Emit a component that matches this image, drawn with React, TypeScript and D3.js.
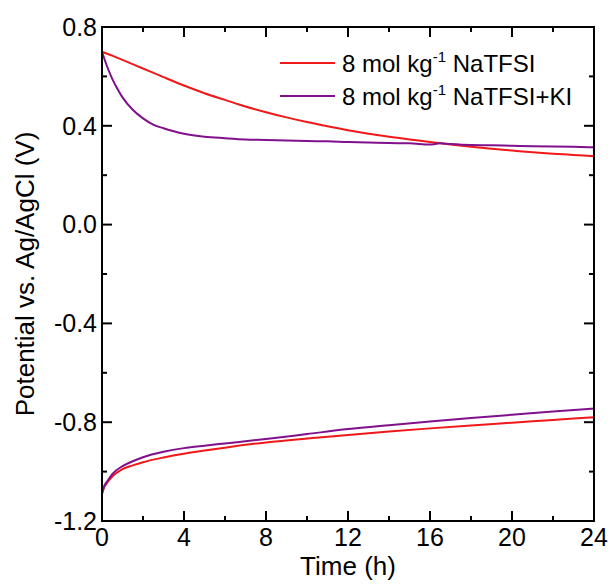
import React, { useRef, useEffect } from "react";
import * as d3 from "d3";

const W = 611;
const H = 585;

// time axis (h)
const xTicks = [0, 4, 8, 12, 16, 20, 24];
const yTicks = [0.8, 0.4, 0.0, -0.4, -0.8, -1.2];

// charge branch (upper)
const tRedUp = [0, 0.5, 1, 2, 3, 4, 5, 6, 7, 8, 9, 10, 11, 12, 13, 14, 15, 16, 17, 18, 19, 20, 21, 22, 23, 24];
const vRedUp = [0.7, 0.684, 0.667, 0.632, 0.597, 0.563, 0.532, 0.505, 0.478, 0.455, 0.434, 0.415, 0.398, 0.382, 0.368, 0.356, 0.345, 0.334, 0.324, 0.315, 0.307, 0.3, 0.293, 0.287, 0.282, 0.277];

const tPurUp = [0, 0.25, 0.5, 0.75, 1, 1.5, 2, 2.5, 3, 3.5, 4, 5, 6, 7, 8, 9, 10, 11, 12, 13, 14, 15, 16, 16.5, 17, 18, 19, 20, 21, 22, 23, 24];
const vPurUp = [0.7, 0.64, 0.59, 0.55, 0.515, 0.465, 0.43, 0.405, 0.39, 0.378, 0.368, 0.356, 0.35, 0.345, 0.343, 0.34, 0.338, 0.337, 0.334, 0.332, 0.33, 0.329, 0.324, 0.329, 0.326, 0.322, 0.321, 0.319, 0.317, 0.316, 0.315, 0.313];

// discharge branch (lower)
const tLow = [0, 0.1, 0.25, 0.5, 1, 1.5, 2, 3, 4, 5, 6, 8, 10, 12, 14, 16, 18, 20, 22, 24];
const vRedLow = [-1.09, -1.065, -1.045, -1.02, -0.99, -0.975, -0.962, -0.943, -0.928, -0.915, -0.903, -0.882, -0.866, -0.852, -0.838, -0.825, -0.813, -0.802, -0.791, -0.78];
const vPurLow = [-1.09, -1.06, -1.04, -1.01, -0.978, -0.958, -0.942, -0.92, -0.905, -0.895, -0.886, -0.868, -0.848, -0.828, -0.812, -0.797, -0.783, -0.77, -0.757, -0.745];

const RED = "#f01818";
const PURPLE = "#80108c";

function Chart() {
  const svgRef = useRef<SVGSVGElement>(null);

  useEffect(() => {
    const svg = d3.select(svgRef.current);
    svg.selectAll("*").remove();

    const m = { left: 102, right: 594, top: 27, bottom: 521 };
    const x = d3.scaleLinear().domain([0, 24]).range([m.left, m.right]);
    const y = d3.scaleLinear().domain([-1.2, 0.8]).range([m.bottom, m.top]);
    const font = "Arial, 'Liberation Sans', sans-serif";

    // curves
    const line = d3
      .line<[number, number]>()
      .x((d) => x(d[0]))
      .y((d) => y(d[1]))
      .curve(d3.curveMonotoneX);

    const series = [
      { t: tRedUp, v: vRedUp, c: RED },
      { t: tLow, v: vRedLow, c: RED },
      { t: tPurUp, v: vPurUp, c: PURPLE },
      { t: tLow, v: vPurLow, c: PURPLE },
    ];
    series.forEach((s) => {
      svg
        .append("path")
        .attr("d", line(s.t.map((t, i) => [t, s.v[i]] as [number, number])))
        .attr("fill", "none")
        .attr("stroke", s.c)
        .attr("stroke-width", 2);
    });

    // axes, ticks inward on all four sides
    const xMinor = d3.range(2, 24, 4);
    const yMinor = d3.range(-1.0, 0.8, 0.4);
    const g = svg.append("g").attr("stroke", "#000").attr("stroke-width", 2);
    xTicks.slice(1, -1).forEach((t) => {
      g.append("line").attr("x1", x(t)).attr("x2", x(t)).attr("y1", m.bottom).attr("y2", m.bottom - 10);
      g.append("line").attr("x1", x(t)).attr("x2", x(t)).attr("y1", m.top).attr("y2", m.top + 10);
    });
    xMinor.forEach((t) => {
      g.append("line").attr("x1", x(t)).attr("x2", x(t)).attr("y1", m.bottom).attr("y2", m.bottom - 5);
      g.append("line").attr("x1", x(t)).attr("x2", x(t)).attr("y1", m.top).attr("y2", m.top + 5);
    });
    yTicks.slice(1, -1).forEach((v) => {
      g.append("line").attr("x1", m.left).attr("x2", m.left + 10).attr("y1", y(v)).attr("y2", y(v));
      g.append("line").attr("x1", m.right).attr("x2", m.right - 10).attr("y1", y(v)).attr("y2", y(v));
    });
    yMinor.forEach((v) => {
      g.append("line").attr("x1", m.left).attr("x2", m.left + 5).attr("y1", y(v)).attr("y2", y(v));
      g.append("line").attr("x1", m.right).attr("x2", m.right - 5).attr("y1", y(v)).attr("y2", y(v));
    });
    g.append("rect")
      .attr("x", m.left)
      .attr("y", m.top)
      .attr("width", m.right - m.left)
      .attr("height", m.bottom - m.top)
      .attr("fill", "none");

    // tick labels
    svg
      .selectAll(".xl")
      .data(xTicks)
      .join("text")
      .attr("x", (d) => x(d))
      .attr("y", 546)
      .attr("text-anchor", "middle")
      .attr("font-family", font)
      .attr("font-size", 25)
      .text((d) => d);

    svg
      .selectAll(".yl")
      .data(yTicks)
      .join("text")
      .attr("x", 97)
      .attr("y", (d) => y(d))
      .attr("dy", "0.35em")
      .attr("text-anchor", "end")
      .attr("font-family", font)
      .attr("font-size", 25)
      .text((d) => d.toFixed(1));

    // titles
    svg
      .append("text")
      .attr("x", x(12))
      .attr("y", 575)
      .attr("text-anchor", "middle")
      .attr("font-family", font)
      .attr("font-size", 26)
      .text("Time (h)");

    svg
      .append("text")
      .attr("transform", `translate(34,${(m.top + m.bottom) / 2}) rotate(-90)`)
      .attr("text-anchor", "middle")
      .attr("font-family", font)
      .attr("font-size", 26)
      .text("Potential vs. Ag/AgCl (V)");

    // legend
    const legend = [
      { label: " NaTFSI", c: RED, ly: 63 },
      { label: " NaTFSI+KI", c: PURPLE, ly: 96 },
    ];
    legend.forEach((l) => {
      svg
        .append("line")
        .attr("x1", 280)
        .attr("x2", 335)
        .attr("y1", l.ly)
        .attr("y2", l.ly)
        .attr("stroke", l.c)
        .attr("stroke-width", 2);
      const t = svg
        .append("text")
        .attr("x", 342)
        .attr("y", l.ly + 9)
        .attr("font-family", font)
        .attr("font-size", 24);
      t.append("tspan").text("8 mol kg");
      t.append("tspan").attr("dy", -10).attr("font-size", 15).text("-1");
      t.append("tspan").attr("dy", 10).text(l.label);
    });
  }, []);

  return (
    <svg
      ref={svgRef}
      width={W}
      height={H}
      style={{ position: "absolute", left: 0, top: 0, background: "#fff" }}
    />
  );
}

export default function App() {
  return <Chart />;
}
